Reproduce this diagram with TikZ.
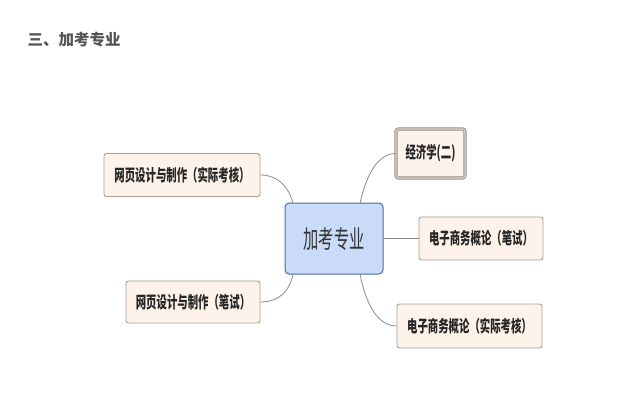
\documentclass[tikz,border=0pt]{standalone}
\usepackage{graphicx}
\usepackage{fontspec}
\newfontfamily\cjk{Noto Sans CJK SC}
\definecolor{boxfill}{HTML}{FDF3EA}
\definecolor{boxline}{HTML}{A89E94}
\definecolor{cfill}{HTML}{C9DBF8}
\definecolor{cline}{HTML}{4D6C9C}
\definecolor{conn}{HTML}{8A8A8A}
\definecolor{titlec}{HTML}{555555}
\newcommand{\sq}[1]{\scalebox{0.63}[1]{#1}}
\newcommand{\sqc}[1]{\scalebox{0.61}[1]{#1}}
\begin{document}
\begin{tikzpicture}[x=1pt,y=-1pt,
  leaf/.style={draw=boxline,line width=0.9pt,fill=boxfill,rounded corners=2.5pt,inner sep=0pt,font=\cjk\fontsize{16.5}{18}\selectfont\bfseries,text=black!85},
  center/.style={draw=cline,line width=1pt,fill=cfill,rounded corners=4pt,inner sep=0pt,font=\cjk\fontsize{25}{28}\selectfont,text=black!80},
  link/.style={draw=conn,line width=0.8pt}]
\useasboundingbox (0,0) rectangle (644,413);
\node[anchor=west,font=\cjk\fontsize{15.5}{17}\selectfont\bfseries,text=titlec] (title) at (24,39.5) {三、加考专业};
\node[center,minimum width=98pt,minimum height=71pt] (c) at (334,238.5) {\sqc{加考专业}};
\node[leaf,minimum width=156pt,minimum height=43pt] (lt) at (182,175) {\sq{网页设计与制作（实际考核）}};
\node[leaf,minimum width=134pt,minimum height=42pt] (lb) at (193,302) {\sq{网页设计与制作（笔试）}};
\node[leaf,draw=boxline!90!black,line width=0.9pt,double=boxline!45,double distance=1.4pt,minimum width=69pt,minimum height=49pt] (rt) at (430.5,153.5) {\sq{经济学(二)}};
\node[leaf,minimum width=124pt,minimum height=43pt] (rm) at (481,238.5) {\sq{电子商务概论（笔试）}};
\node[leaf,minimum width=145pt,minimum height=44pt] (rb) at (469.5,326) {\sq{电子商务概论（实际考核）}};
\coordinate (ctl) at (293,203.5);
\coordinate (cbl) at (293,274);
\coordinate (ctr) at (360,203.5);
\coordinate (cbr) at (360,274);
\draw[link] (lt.east) .. controls (280,175) and (290,190) .. (ctl);
\draw[link] (lb.east) .. controls (280,302) and (290,290) .. (cbl);
\draw[link] (ctr) .. controls (366,175) and (378,153.5) .. (rt.west);
\draw[link] (c.east) -- (rm.west);
\draw[link] (cbr) .. controls (366,305) and (378,326) .. (rb.west);
\end{tikzpicture}
\end{document}
